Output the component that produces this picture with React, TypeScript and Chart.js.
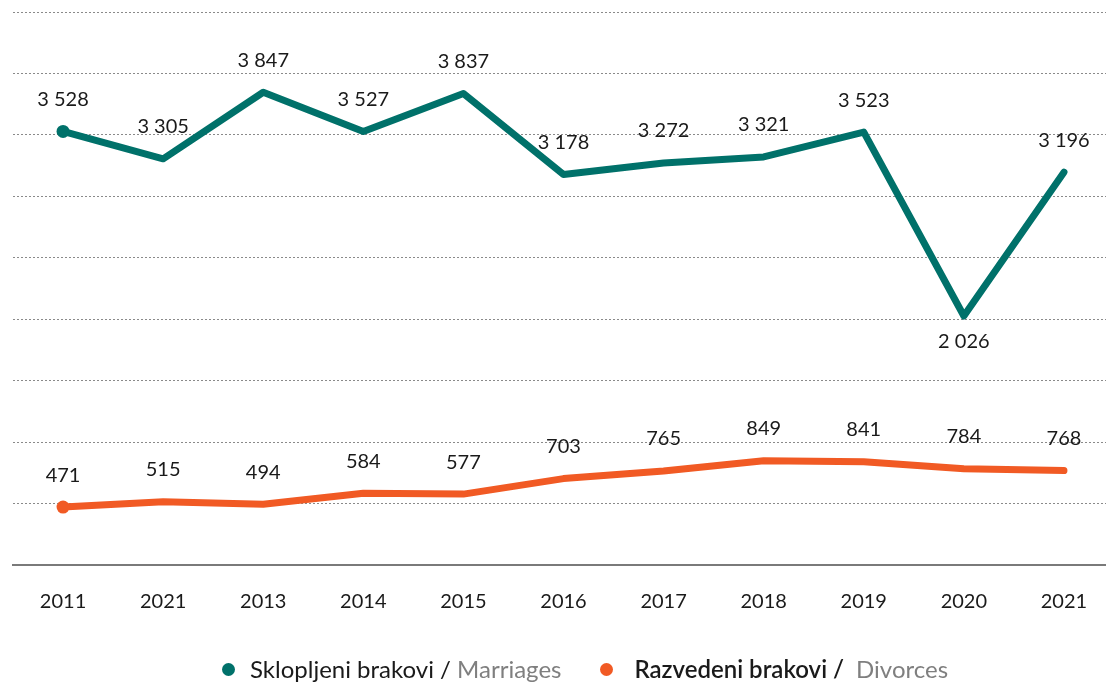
import React, { useEffect, useRef } from "react";
import { Chart, registerables } from "chart.js";

Chart.register(...registerables);

const years = ["2011", "2021", "2013", "2014", "2015", "2016", "2017", "2018", "2019", "2020", "2021"];
const marriages = [3528, 3305, 3847, 3527, 3837, 3178, 3272, 3321, 3523, 2026, 3196];
const divorces = [471, 515, 494, 584, 577, 703, 765, 849, 841, 784, 768];
const marriagesLabelBelow = [false, false, false, false, false, false, false, false, false, true, false];

const TEAL = "#00716A";
const ORANGE = "#F15A24";
const FONT = "Lato, 'Noto Sans', sans-serif";

const fmt = (n: number) => String(n).replace(/\B(?=(\d{3})+(?!\d))/g, " ");

const valueLabels = {
  id: "valueLabels",
  afterDatasetsDraw(chart: any) {
    const ctx = chart.ctx;
    ctx.save();
    ctx.font = `20px ${FONT}`;
    ctx.fillStyle = "#1a1a1a";
    ctx.textAlign = "center";
    ctx.textBaseline = "middle";
    chart.data.datasets.forEach((ds: any, di: number) => {
      const meta = chart.getDatasetMeta(di);
      meta.data.forEach((pt: any, i: number) => {
        const below = di === 0 && marriagesLabelBelow[i];
        const y = below ? pt.y + 26 : pt.y - 32;
        ctx.fillText(fmt(ds.data[i]), pt.x, y);
      });
    });
    ctx.restore();
  },
};

export default function App() {
  const ref = useRef<HTMLCanvasElement>(null);
  useEffect(() => {
    if (!ref.current) return;
    const chart = new Chart(ref.current, {
      type: "line",
      data: {
        labels: years,
        datasets: [
          {
            label: "Sklopljeni brakovi / Marriages",
            data: marriages,
            borderColor: TEAL,
            backgroundColor: TEAL,
            borderWidth: 7,
            borderCapStyle: "round",
            borderJoinStyle: "round",
            tension: 0,
            pointRadius: (c: any) => (c.dataIndex === 0 ? 6.5 : 0),
            pointHoverRadius: 0,
            pointBorderWidth: 0,
            pointBackgroundColor: TEAL,
          },
          {
            label: "Razvedeni brakovi / Divorces",
            data: divorces,
            borderColor: ORANGE,
            backgroundColor: ORANGE,
            borderWidth: 7,
            borderCapStyle: "round",
            borderJoinStyle: "round",
            tension: 0,
            pointRadius: (c: any) => (c.dataIndex === 0 ? 6.5 : 0),
            pointHoverRadius: 0,
            pointBorderWidth: 0,
            pointBackgroundColor: ORANGE,
          },
        ],
      },
      options: {
        responsive: false,
        animation: false,
        devicePixelRatio: 1,
        layout: { autoPadding: false, padding: { left: 5, right: 0, top: 4, bottom: 4 } },
        plugins: {
          legend: { display: false },
          tooltip: { enabled: false },
        },
        scales: {
          x: {
            offset: true,
            grid: { display: false, drawTicks: false },
            border: { display: true, color: "#7a7a7a", width: 2 },
            ticks: { color: "#1a1a1a", font: { family: FONT, size: 20 }, padding: 25, maxRotation: 0 },
          },
          y: {
            min: 0,
            max: 4500,
            afterFit: (s: any) => {
              s.width = 0;
            },
            ticks: { display: false, stepSize: 500, padding: 0 },
            grid: { color: "#8a8a8a", lineWidth: 1, drawTicks: false },
            border: { display: false, dash: [2, 2] },
          },
        },
      },
      plugins: [valueLabels],
    });
    return () => chart.destroy();
  }, []);

  const dot = (color: string) => ({
    display: "inline-block",
    width: 13,
    height: 13,
    borderRadius: "50%",
    background: color,
  });

  return (
    <div style={{ position: "relative", width: 1106, height: 670 }}>
      <canvas ref={ref} width={1106} height={635} style={{ display: "block" }} />
      <div
        style={{
          position: "fixed",
          left: 222,
          top: 655,
          display: "flex",
          alignItems: "center",
          fontFamily: FONT,
          fontSize: 24,
          lineHeight: "28px",
          whiteSpace: "pre",
        }}
      >
        <span style={dot(TEAL)} />
        <span style={{ marginLeft: 15, color: "#1a1a1a" }}>Sklopljeni brakovi / </span>
        <span style={{ color: "#7f7f7f" }}>Marriages</span>
        <span style={{ ...dot(ORANGE), marginLeft: 39 }} />
        <span style={{ marginLeft: 21, color: "#1a1a1a", fontWeight: 600 }}>Razvedeni brakovi /  </span>
        <span style={{ color: "#7f7f7f" }}>Divorces</span>
      </div>
    </div>
  );
}
